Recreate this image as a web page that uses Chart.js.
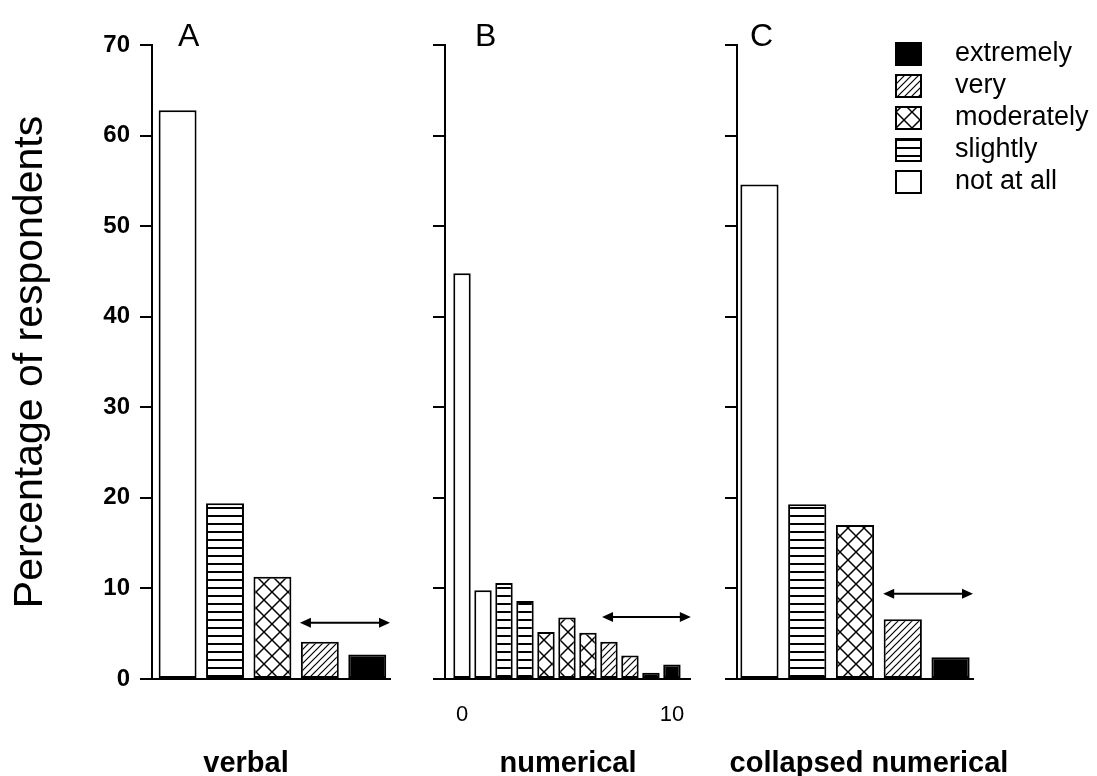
<!DOCTYPE html>
<html lang="en">
<head>
<meta charset="UTF-8">
<title>Percentage of respondents</title>
<script src="https://cdn.jsdelivr.net/npm/chart.js"></script>
<style>
  body { margin: 0; background: #fff; }
  #wrap { position: relative; width: 1097px; height: 776px; }
  #wrap canvas { position: absolute; left: 0; top: 0; }
</style>
</head>
<body>
<div id="wrap">
  <canvas id="chartA" width="1097" height="776"></canvas>
  <canvas id="chartB" width="1097" height="776"></canvas>
  <canvas id="chartC" width="1097" height="776"></canvas>
</div>
<script>
// answer categories (legend order)
const categories = ['extremely', 'very', 'moderately', 'slightly', 'not at all'];

// A: verbal scale
const verbalCats = ['not at all', 'slightly', 'moderately', 'very', 'extremely'];
const verbalValues = [62.8, 19.4, 11.3, 4.1, 2.7];

// B: numerical scale 0..10
const numericalCats = ['not at all', 'not at all', 'slightly', 'slightly', 'moderately', 'moderately',
  'moderately', 'very', 'very', 'extremely', 'extremely'];
const numericalValues = [44.8, 9.8, 10.6, 8.6, 5.2, 6.8, 5.1, 4.1, 2.6, 0.7, 1.6];
const numericalTicks = [0, 10];

// C: numerical collapsed into the verbal categories
const collapsedCats = ['not at all', 'slightly', 'moderately', 'very', 'extremely'];
const collapsedValues = [54.6, 19.3, 17.0, 6.6, 2.4];

const yMax = 70;
const yStep = 10;

Chart.defaults.font.family = '"Liberation Sans", Arial, sans-serif';
Chart.defaults.color = '#000';

function patternsFor(ctx) {
    function tile(size, draw) {
        let c = document.createElement('canvas');
        c.width = size; c.height = size;
        let g = c.getContext('2d');
        g.fillStyle = '#fff';
        g.fillRect(0, 0, size, size);
        g.strokeStyle = '#000';
        g.fillStyle = '#000';
        draw(g, size);
        return ctx.createPattern(c, 'repeat');
    }
    return {
        'extremely': '#000',
        'not at all': '#fff',
        'slightly': tile(8, (g, s) => { g.fillRect(0, 3, s, 2); }),
        'very': tile(7, (g, s) => {
            g.lineWidth = 1.2;
            g.beginPath();
            g.moveTo(0, s); g.lineTo(s, 0);
            g.moveTo(-2, 2); g.lineTo(2, -2);
            g.moveTo(s - 2, s + 2); g.lineTo(s + 2, s - 2);
            g.stroke();
        }),
        'moderately': tile(16, (g, s) => {
            g.lineWidth = 1.5;
            g.beginPath();
            g.moveTo(0, 0); g.lineTo(s, s);
            g.moveTo(s, 0); g.lineTo(0, s);
            g.stroke();
        })
    };
}

// panel letter, caption under the panel and the double arrow
const decor = {
    id: 'decor',
    afterDraw(chart, args, o) {
        const { ctx, chartArea, scales } = chart;
        ctx.save();
        ctx.fillStyle = '#000';
        ctx.strokeStyle = '#000';
        ctx.font = '32px "Liberation Sans"';
        ctx.textBaseline = 'alphabetic';
        ctx.textAlign = 'left';
        ctx.fillText(o.letter, chartArea.left + o.letterDx, 46);

        ctx.font = 'bold 29px "Liberation Sans"';
        ctx.textAlign = 'center';
        ctx.fillText(o.caption, chartArea.left + o.captionDx, 772);

        let x1 = scales.x.getPixelForValue(o.arrow[0]);
        let x2 = scales.x.getPixelForValue(o.arrow[1]);
        let ya = scales.y.getPixelForValue(o.arrow[2]);
        ctx.lineWidth = 2;
        ctx.beginPath();
        ctx.moveTo(x1 + 6, ya); ctx.lineTo(x2 - 6, ya);
        ctx.stroke();
        ctx.beginPath();
        ctx.moveTo(x1, ya); ctx.lineTo(x1 + 11, ya - 5); ctx.lineTo(x1 + 11, ya + 5); ctx.closePath();
        ctx.moveTo(x2, ya); ctx.lineTo(x2 - 11, ya - 5); ctx.lineTo(x2 - 11, ya + 5); ctx.closePath();
        ctx.fill();

        if (o.legend) {
            let fills = patternsFor(ctx);
            ctx.font = '27px "Liberation Sans"';
            ctx.textAlign = 'left';
            ctx.textBaseline = 'middle';
            categories.forEach((cat, i) => {
                let top = 42 + i * 32;
                ctx.fillStyle = fills[cat];
                ctx.fillRect(895, top, 27, 24);
                ctx.strokeRect(896, top + 1, 25, 22);
                ctx.fillStyle = '#000';
                ctx.fillText(cat, 955, top + 12);
            });
        }
        ctx.restore();
    }
};

function panel(id, p) {
    let ctx = document.getElementById(id).getContext('2d');
    let fills = patternsFor(ctx);
    return new Chart(ctx, {
        type: 'bar',
        data: {
            datasets: [{
                data: p.values.map((v, i) => ({ x: i, y: v })),
                backgroundColor: p.cats.map(c => fills[c]),
                borderColor: '#000',
                borderWidth: 2,
                borderSkipped: false,
                barPercentage: p.barPct,
                categoryPercentage: 1
            }]
        },
        options: {
            responsive: false,
            animation: false,
            events: [],
            layout: { padding: { left: 0, top: 45, right: 1097 - p.right, bottom: 47 } },
            plugins: {
                legend: { display: false },
                tooltip: { enabled: false },
                decor: p.decor
            },
            scales: {
                x: {
                    type: 'linear',
                    min: p.xMin,
                    max: p.xMax,
                    offset: false,
                    grid: { display: false, drawTicks: false },
                    border: { color: '#000', width: 2 },
                    ticks: { display: p.xTicks != null, padding: 23, font: { size: 22 } },
                    afterBuildTicks: s => { if (p.xTicks) s.ticks = p.xTicks.map(v => ({ value: v })); },
                    afterFit: s => { s.height = 50; }
                },
                y: {
                    min: 0,
                    max: yMax,
                    ticks: { stepSize: yStep, display: p.yLabels, padding: 10, font: { size: 24, weight: 'bold' } },
                    grid: { drawOnChartArea: false, color: '#000', lineWidth: 2, tickLength: 12 },
                    border: { color: '#000', width: 2 },
                    title: {
                        display: p.yLabels,
                        text: 'Percentage of respondents',
                        font: { size: 41 },
                        padding: { top: 6 }
                    },
                    afterFit: s => { s.width = p.left; }
                }
            }
        },
        plugins: [decor]
    });
}

panel('chartA', {
    cats: verbalCats, values: verbalValues, barPct: 0.8,
    left: 152, right: 390, xMin: -0.54, xMax: 4.48, yLabels: true,
    decor: { letter: 'A', letterDx: 26, caption: 'verbal', captionDx: 94, arrow: [2.58, 4.48, 6.2] }
});
panel('chartB', {
    cats: numericalCats, values: numericalValues, barPct: 0.83,
    left: 445, right: 690, xMin: -0.81, xMax: 10.86, yLabels: false, xTicks: numericalTicks,
    decor: { letter: 'B', letterDx: 30, caption: 'numerical', captionDx: 123, arrow: [6.67, 10.9, 6.85] }
});
panel('chartC', {
    cats: collapsedCats, values: collapsedValues, barPct: 0.8,
    left: 737, right: 973, xMin: -0.47, xMax: 4.47, yLabels: false,
    decor: { letter: 'C', letterDx: 13, caption: 'collapsed numerical', captionDx: 132, arrow: [2.59, 4.47, 9.4], legend: true }
});
</script>
</body>
</html>
